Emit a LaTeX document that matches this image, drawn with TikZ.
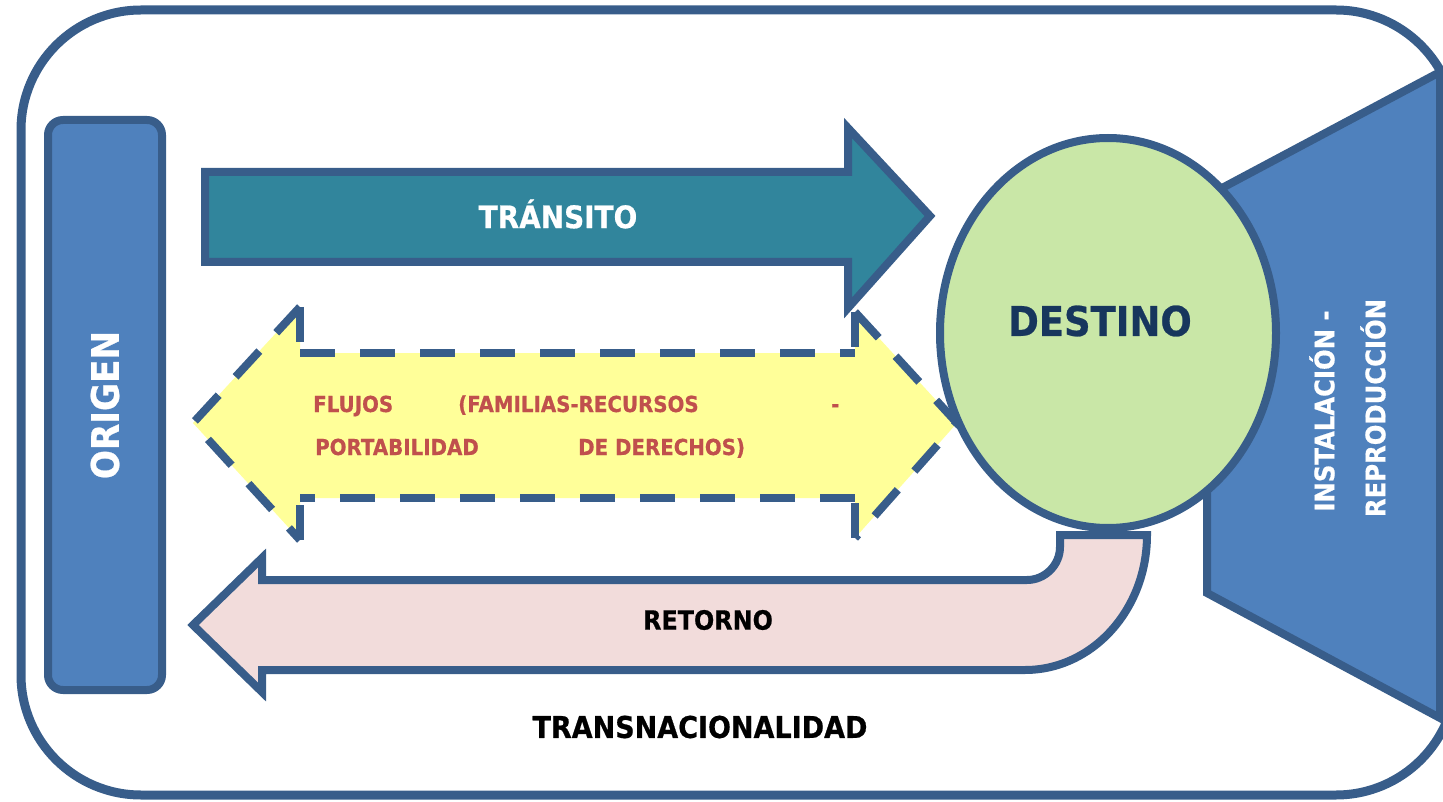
\documentclass[tikz,border=0pt]{standalone}
\usepackage{fontspec}
\setmainfont{DejaVu Sans}[FakeStretch=0.9, BoldFeatures={FakeBold=0.6}]
\definecolor{bord}{HTML}{385D8A}
\definecolor{origfill}{HTML}{4F81BD}
\definecolor{transfill}{HTML}{31859C}
\definecolor{destfill}{RGB}{201,231,167}
\definecolor{yelfill}{HTML}{FFFF99}
\definecolor{pinkfill}{HTML}{F2DCDB}
\definecolor{redtxt}{HTML}{C0504D}
\definecolor{navytxt}{HTML}{17365D}
\tikzset{
  shp/.style={draw=bord, line width=8pt, line join=miter},
  lbl/.style={font=\bfseries\fontsize{#1}{#1}\selectfont, inner sep=0pt, anchor=center},
  wlbl/.style={lbl=#1, text=white},
  rlbl/.style={font=\bfseries\fontsize{22}{22}\selectfont, text=redtxt, inner sep=0pt, anchor=base west},
  dsh/.style={draw=bord, line width=8pt, dash pattern=on 35pt off 25pt},
}
\begin{document}
\begin{tikzpicture}[x=1pt,y=-1pt]
\useasboundingbox (0,0) rectangle (1443,802);
\clip (0,0) rectangle (1443,802);
% outer frame
\draw[draw=bord, line width=9pt, rounded corners=120pt] (21,10) rectangle (1456,795);
% ORIGEN
\draw[shp, fill=origfill, rounded corners=15pt] (48,120) rectangle (162,690);
\node[wlbl=38, rotate=90] (origen) at (105,405) {ORIGEN};
% TRANSITO arrow
\draw[shp, fill=transfill] (205,172) -- (848,172) -- (848,128) -- (930,216) -- (848,308) -- (848,262) -- (205,262) -- cycle;
\node[wlbl=31] (transito) at (558,214) {TRÁNSITO};
% trapezoid
\draw[shp, fill=origfill] (1207,196) -- (1440,72) -- (1440,718) -- (1207,593) -- cycle;
\node[wlbl=27, rotate=90] (inst) at (1322,411) {INSTALACIÓN -};
\node[wlbl=27, rotate=90] (repr) at (1373,408) {REPRODUCCIÓN};
% DESTINO ellipse
\draw[shp, fill=destfill] (1108,333) ellipse [x radius=168pt, y radius=195pt];
\node[lbl=41, text=navytxt] (destino) at (1100,321) {DESTINO};
% Flujos double arrow
\fill[yelfill] (193,423) -- (300,307) -- (300,353) -- (855,353) -- (855,312) -- (957,423) -- (855,538) -- (855,498) -- (300,498) -- (300,540) -- cycle;
\draw[dsh] (300,353) -- (855,353);
\draw[dsh] (855,498) -- (300,498);
\draw[dsh] (300,307) -- (300,353);
\draw[dsh] (300,307) -- (193,423) -- (300,540);
\draw[dsh] (300,540) -- (300,498);
\draw[dsh] (855,312) -- (957,423) -- (855,538);
\draw[dsh] (855,312) -- (855,353);
\draw[dsh] (855,538) -- (855,498);
\node[rlbl] (f1) at (313,412) {FLUJOS};
\node[rlbl] (f2) at (458,412) {(FAMILIAS-RECURSOS};
\node[rlbl] (f3) at (831,412) {-};
\node[rlbl] (f4) at (315,455) {PORTABILIDAD};
\node[rlbl] (f5) at (578,455) {DE DERECHOS)};
% RETORNO arrow
\draw[shp, fill=pinkfill] (193,625) -- (262,558) -- (262,580) -- (1027,580)
  .. controls (1045,580) and (1060,565) .. (1060,547) -- (1060,535) -- (1147,535)
  .. controls (1147,610) and (1092,670) .. (1025,670) -- (262,670) -- (262,692) -- cycle;
\node[lbl=26.5, text=black] (retorno) at (708,620) {RETORNO};
% TRANSNACIONALIDAD
\node[lbl=30, text=black] (transn) at (700,727) {TRANSNACIONALIDAD};
\end{tikzpicture}
\end{document}
